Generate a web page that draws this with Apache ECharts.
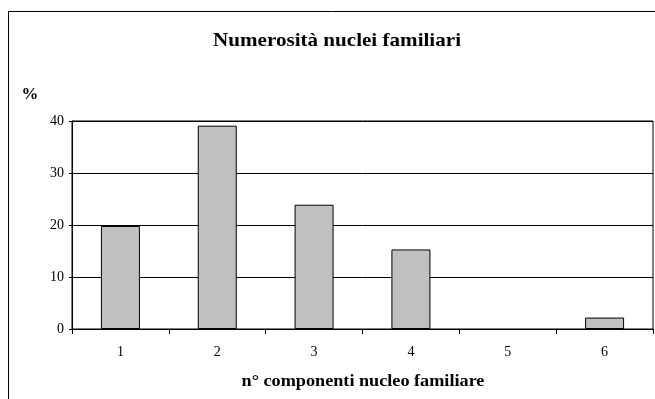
<!DOCTYPE html>
<html><head><meta charset="utf-8">
<script src="https://cdn.jsdelivr.net/npm/echarts@6/dist/echarts.min.js"></script>
<style>html,body{margin:0;padding:0;background:#fff}#c{width:655px;height:399px}</style>
</head><body><div id="c"></div>
<script>
const categories = ['1','2','3','4','5','6'];
const values = [19.8, 39.1, 23.9, 15.3, 0, 2.2];
const yTicks = [0, 10, 20, 30, 40];
const chartTitle = 'Numerosità nuclei familiari';
const yName = '%';
const xName = 'n° componenti nucleo familiare';

const serif = '"Liberation Serif", "Times New Roman", serif';
function txt(text, x, y, size, sx) {
  return {type: 'text', x: x, y: y, scaleX: sx, z: 50,
    style: {text: text, x: 0, y: 0, font: 'bold ' + size + 'px ' + serif, fill: '#000',
      align: 'center', verticalAlign: 'middle', textAlign: 'center', textVerticalAlign: 'middle'}};
}
const chart = echarts.init(document.getElementById('c'));
chart.setOption({
  backgroundColor: '#fff',
  animation: false,
  graphic: [
    {type: 'rect', shape: {x: 8.5, y: 11.5, width: 700, height: 450},
     style: {fill: 'none', stroke: '#000', lineWidth: 1}, z: 100},
    txt(chartTitle, 337, 41, 19, 1.11),
    txt(yName, 30, 95, 16, 1.05),
    txt(xName, 363, 382, 17, 1.07)
  ],
  grid: {left: 72, right: 2, top: 121, bottom: 70, show: true, borderColor: '#000', borderWidth: 1, containLabel: false},
  xAxis: {
    type: 'category', data: categories, boundaryGap: true,
    axisLine: {lineStyle: {color: '#000', width: 1}},
    axisTick: {show: true, alignWithLabel: false, length: 5, lineStyle: {color: '#000'}},
    axisLabel: {fontFamily: serif, fontSize: 14, color: '#000', margin: 16}
  },
  yAxis: {
    type: 'value', min: yTicks[0], max: yTicks[yTicks.length-1], interval: 10,
    axisLine: {show: true, lineStyle: {color: '#000', width: 1}},
    axisTick: {show: true, length: 3, lineStyle: {color: '#000'}},
    axisLabel: {fontFamily: serif, fontSize: 14, color: '#000', margin: 8},
    splitLine: {show: true, lineStyle: {color: '#000', width: 1}}
  },
  series: [{
    type: 'bar', barWidth: 39,
    data: values.map(v => v === 0 ? {value: v, itemStyle: {borderWidth: 0}} : v),
    itemStyle: {color: '#c0c0c0', borderColor: '#000', borderWidth: 1}
  }]
});
</script></body></html>
